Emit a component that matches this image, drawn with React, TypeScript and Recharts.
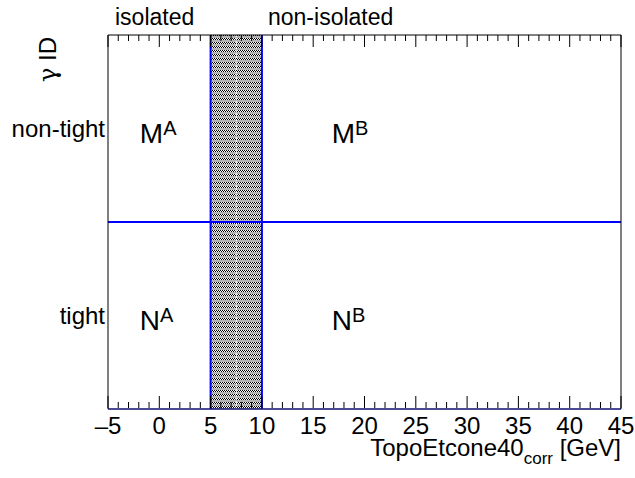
import { ComposedChart, XAxis, YAxis, Scatter, ReferenceArea, ReferenceLine } from 'recharts'

const xTicks = [
  -5, -4, -3, -2, -1, 0, 1, 2, 3, 4, 5, 6, 7, 8, 9, 10, 11, 12, 13, 14, 15, 16, 17, 18, 19, 20,
  21, 22, 23, 24, 25, 26, 27, 28, 29, 30, 31, 32, 33, 34, 35, 36, 37, 38, 39, 40, 41, 42, 43, 44, 45,
]
const xDomain = [-5, 45]
const yDomain = [0, 2]
const idTicks = [0.5, 1.5]
const idNames = ['tight', 'non-tight']
const isoCut = [5, 10]
const bandMid = 7.5
const idCut = 1
const regions = [
  { x: -1.9, y: 1.42, main: 'M', sup: 'A' },
  { x: 16.8, y: 1.42, main: 'M', sup: 'B' },
  { x: -1.9, y: 0.42, main: 'N', sup: 'A' },
  { x: 16.8, y: 0.42, main: 'N', sup: 'B' },
]

const W = 635
const H = 478
// axes are 1px thick, so the plot frame ends up at 108..621 x 35..409
const margin = { top: 34, right: 13, bottom: 68, left: 107 }
const plotTop = margin.top + 1
const font = '"Liberation Sans", Arial, Helvetica, sans-serif'

const fmtX = (v: number) => (v < 0 ? `\u2013${Math.abs(v)}` : `${v}`)

// draws the inward tick on both the bottom and the top frame edge
function FrameTick({ x, y, payload }: any) {
  const major = payload.value % 5 === 0
  const len = major ? 12 : 6
  const y0 = y - 1
  return (
    <g>
      <line x1={x} x2={x} y1={y0} y2={y0 - len} stroke="#000" />
      <line x1={x} x2={x} y1={plotTop} y2={plotTop + len} stroke="#000" />
      {major && (
        <text x={x} y={y0 + 26} textAnchor="middle" fontSize={24} fill="#000">
          {fmtX(payload.value)}
        </text>
      )}
    </g>
  )
}

function RegionLabel({ cx, cy, payload }: any) {
  return (
    <text x={cx} y={cy} fontSize={28} fill="#000" textAnchor="start">
      {payload.main}
      <tspan fontSize={20} dy={-8}>{payload.sup}</tspan>
    </text>
  )
}

export default function App() {
  return (
    <div style={{ position: 'absolute', left: 0, top: 0, width: W, height: H, background: '#fff', fontFamily: font }}>
      <ComposedChart width={W} height={H} margin={margin}>
        <defs>
          <pattern id="dots" width="2" height="4" patternUnits="userSpaceOnUse">
            <rect width="2" height="4" fill="#b4b4b4" />
            <rect x="0" y="2" width="1" height="1" fill="#000" />
            <rect x="1" y="2" width="1" height="1" fill="#fff" />
            <rect x="0" y="3" width="1" height="1" fill="#fff" />
            <rect x="1" y="3" width="1" height="1" fill="#000" />
          </pattern>
        </defs>
        <XAxis
          xAxisId="b"
          type="number"
          dataKey="x"
          domain={xDomain}
          ticks={xTicks}
          interval={0}
          allowDataOverflow
          height={1}
          tickSize={0}
          tickMargin={0}
          tickLine={false}
          axisLine={{ stroke: '#101070', strokeWidth: 1.5 }}
          tick={<FrameTick />}
        />
        <XAxis
          xAxisId="t"
          orientation="top"
          type="number"
          domain={xDomain}
          height={1}
          tick={false}
          tickLine={false}
          axisLine={{ stroke: '#000' }}
        />
        <YAxis
          yAxisId="l"
          type="number"
          dataKey="y"
          domain={yDomain}
          ticks={idTicks}
          tickFormatter={(v: number) => idNames[idTicks.indexOf(v)]}
          width={1}
          tickSize={0}
          tickMargin={3}
          tickLine={false}
          axisLine={{ stroke: '#000' }}
          tick={{ fontSize: 24, fill: '#000' }}
        />
        <YAxis
          yAxisId="r"
          orientation="right"
          type="number"
          domain={yDomain}
          width={1}
          tick={false}
          tickLine={false}
          axisLine={{ stroke: '#000' }}
        />
        <ReferenceArea
          xAxisId="b"
          yAxisId="l"
          x1={isoCut[0]}
          x2={isoCut[1]}
          fill="url(#dots)"
          fillOpacity={1}
          stroke="none"
        />
        <ReferenceLine xAxisId="b" yAxisId="l" x={bandMid} stroke="#fff" strokeDasharray="2 1" />
        {isoCut.map((c) => (
          <ReferenceLine key={c} xAxisId="b" yAxisId="l" x={c} stroke="#0000ff" strokeWidth={2} />
        ))}
        <ReferenceLine xAxisId="b" yAxisId="l" y={idCut} stroke="#0000ff" strokeWidth={2} />
        <Scatter
          xAxisId="b"
          yAxisId="l"
          data={regions}
          isAnimationActive={false}
          shape={<RegionLabel />}
        />
        <text x={115} y={25} fontSize={23} fill="#000">isolated</text>
        <text x={268} y={25} fontSize={23} fill="#000">non-isolated</text>
        <text x={56} y={37} fontSize={24} fill="#000" textAnchor="end" transform="rotate(-90 56 37)">
          <tspan fontFamily="DejaVu Serif">γ</tspan> ID
        </text>
        <text x={W - margin.right - 1} y={456} fontSize={24} fill="#000" textAnchor="end">
          TopoEtcone40
          <tspan fontSize={17} dy={8}>corr</tspan>
          <tspan dy={-8}> [GeV]</tspan>
        </text>
      </ComposedChart>
    </div>
  )
}
